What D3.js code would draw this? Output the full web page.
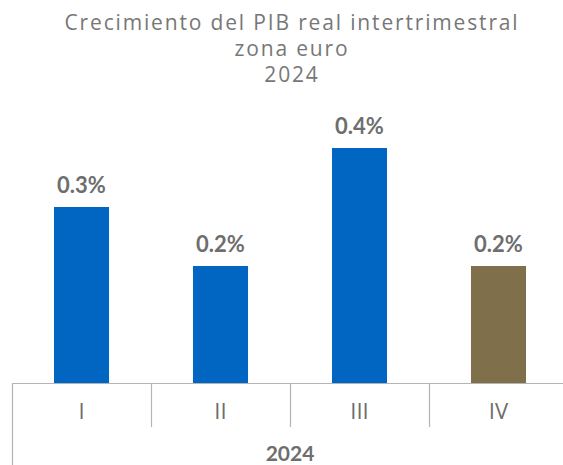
<!DOCTYPE html>
<html><head><meta charset="utf-8">
<script src="https://cdn.jsdelivr.net/npm/d3@7"></script>
<style>html,body{margin:0;padding:0;background:#fff;}svg{display:block;}</style>
</head><body>
<script>
const categories = ["I", "II", "III", "IV"];
const values = [0.3, 0.2, 0.4, 0.2];
const barColors = ["#0066c2", "#0066c2", "#0066c2", "#7f6f4b"];
const groupLabel = "2024";
const titleLines = ["Crecimiento del PIB real intertrimestral", "zona euro", "2024"];

const W = 563, H = 465;
const svg = d3.select("body").append("svg").attr("width", W).attr("height", H);
const font = "Lato, 'Open Sans', sans-serif";
const titleFont = "'Open Sans', Lato, sans-serif";
const gray = "#6e6e6e";

const x = d3.scaleBand().domain(categories).range([12, 568]).padding(0);
const y = d3.scaleLinear().domain([0, 0.4]).range([384, 148]);
const bw = x.step() * 0.396;

// title
const tt = svg.append("g").selectAll("text").data(titleLines).join("text")
  .attr("x", 292).attr("y", (d, i) => 30 + i * 26)
  .attr("text-anchor", "middle").attr("font-family", titleFont)
  .attr("font-size", 21).attr("fill", "#777777").text(d => d);
const len0 = tt.node().getComputedTextLength();
const ls = Math.max(0, (455 - len0) / titleLines[0].length);
tt.attr("letter-spacing", ls);

// bars
svg.append("g").selectAll("rect").data(values).join("rect")
  .attr("x", (d, i) => x(categories[i]) + x.bandwidth() / 2 - bw / 2)
  .attr("width", bw)
  .attr("y", d => y(d))
  .attr("height", d => y(0) - y(d))
  .attr("fill", (d, i) => barColors[i]);

// value labels
svg.append("g").selectAll("text").data(values).join("text")
  .attr("x", (d, i) => x(categories[i]) + x.bandwidth() / 2)
  .attr("y", d => y(d) - 14)
  .attr("text-anchor", "middle").attr("font-family", font)
  .attr("font-weight", 700).attr("font-size", 22).attr("fill", gray)
  .text(d => d.toFixed(1) + "%");

// axis
const axisY = 383.5;
const ax = svg.append("g").attr("stroke", "#b4b4b4").attr("stroke-width", 1.2);
ax.append("line").attr("x1", 12).attr("x2", W).attr("y1", axisY).attr("y2", axisY);
ax.selectAll("line.div").data(categories.slice(1)).join("line").attr("class", "div")
  .attr("x1", d => Math.round(x(d)) + 0.5).attr("x2", d => Math.round(x(d)) + 0.5)
  .attr("y1", axisY).attr("y2", 427);
ax.append("line").attr("x1", 12.5).attr("x2", 12.5).attr("y1", axisY).attr("y2", H);

// category labels
svg.append("g").selectAll("text").data(categories).join("text")
  .attr("x", d => x(d) + x.bandwidth() / 2).attr("y", 419)
  .attr("text-anchor", "middle").attr("font-family", titleFont)
  .attr("font-size", 22).attr("fill", gray).text(d => d);

// group label
svg.append("text").attr("x", 290).attr("y", 461)
  .attr("text-anchor", "middle").attr("font-family", font)
  .attr("font-weight", 700).attr("font-size", 21).attr("fill", gray).text(groupLabel);
</script>
</body></html>
